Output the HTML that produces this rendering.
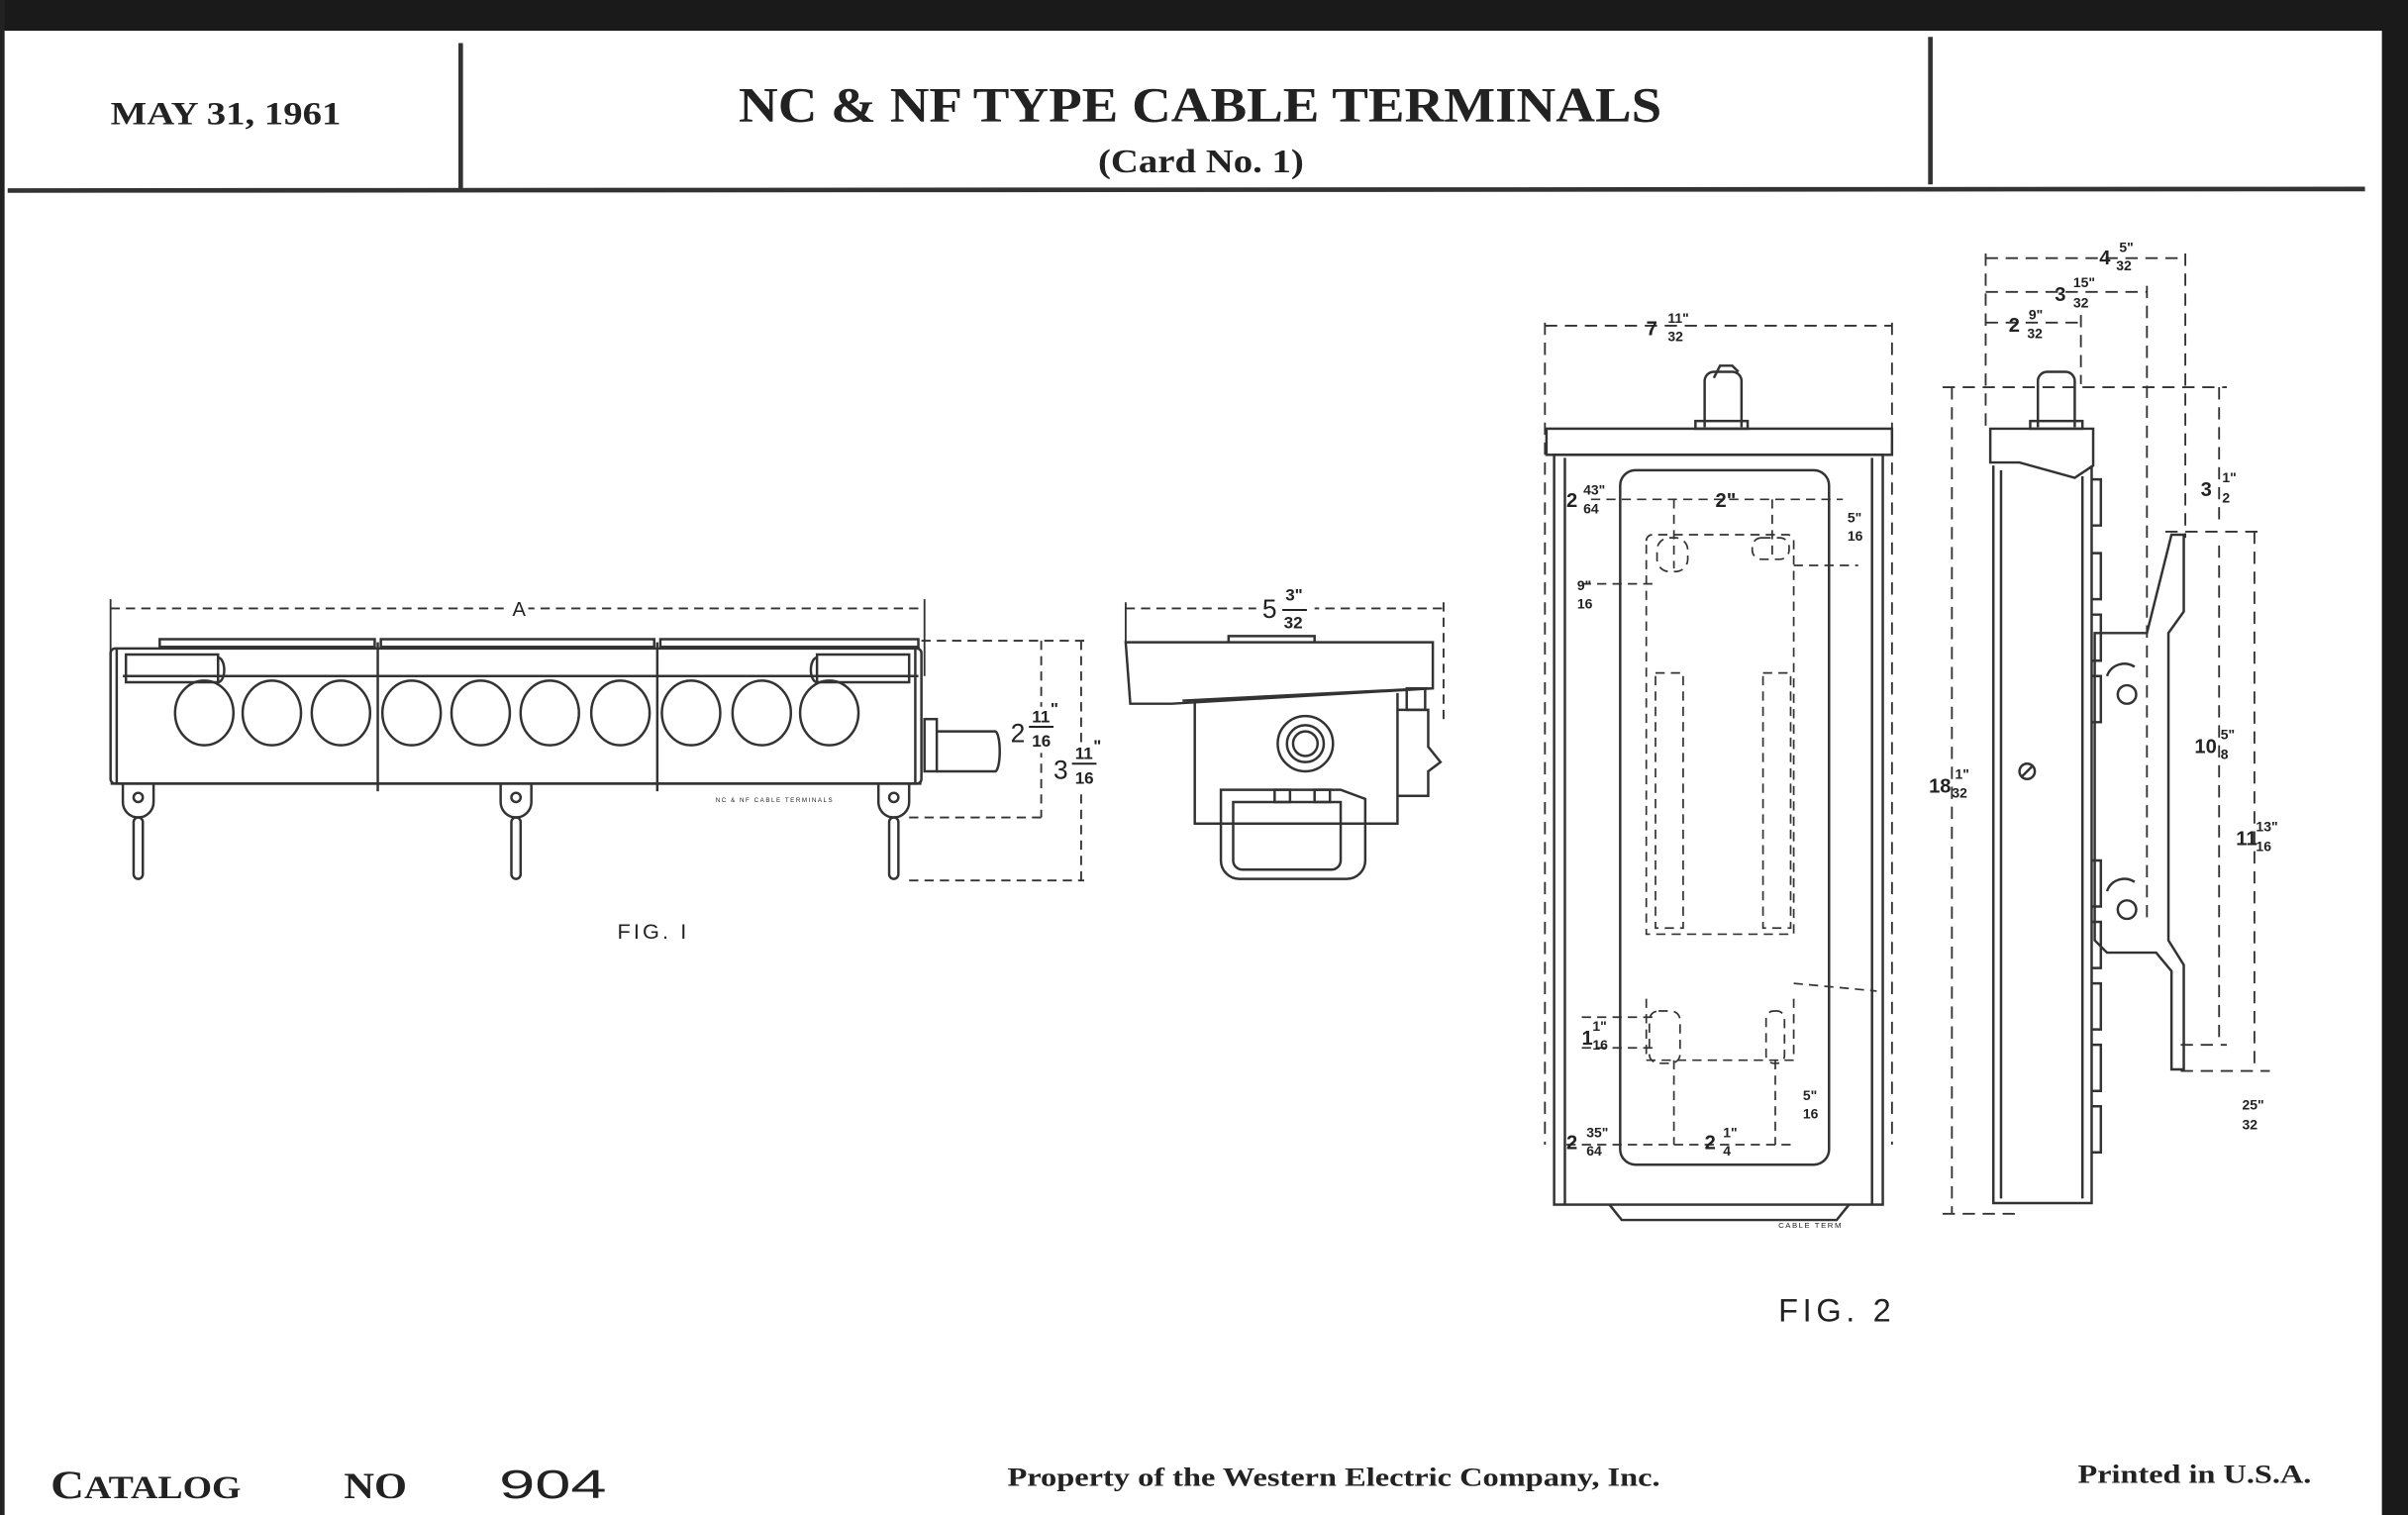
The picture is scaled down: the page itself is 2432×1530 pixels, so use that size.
<!DOCTYPE html>
<html><head><meta charset="utf-8"><style>
html,body{margin:0;padding:0;background:#fff;}
svg{display:block;}
.s{font-family:"Liberation Serif",serif;font-weight:bold;fill:#222;}
.d{font-family:"Liberation Sans",sans-serif;fill:#222;}
</style></head><body>
<svg width="2432" height="1530" viewBox="0 0 1568 986" preserveAspectRatio="none" xmlns="http://www.w3.org/2000/svg">
<rect x="0" y="0" width="1568" height="986" fill="#fff"/>
<rect x="0" y="0" width="1568" height="20" fill="#1a1a1a"/>
<rect x="1551" y="0" width="17" height="986" fill="#1a1a1a"/>
<rect x="0" y="0" width="3" height="986" fill="#222"/>
<!-- header -->
<g stroke="#333" stroke-width="3" fill="none">
<line x1="5" y1="124" x2="1540" y2="123"/>
<line x1="300" y1="28" x2="300" y2="124"/>
<line x1="1257" y1="24" x2="1257" y2="120"/>
</g>
<text class="s" x="72" y="81" font-size="21" textLength="150" lengthAdjust="spacingAndGlyphs">MAY 31, 1961</text>
<text class="s" x="481" y="79" font-size="32" font-weight="normal" textLength="601" lengthAdjust="spacingAndGlyphs">NC &amp; NF TYPE CABLE TERMINALS</text>
<text class="s" x="715" y="112" font-size="22" font-weight="normal" textLength="134" lengthAdjust="spacingAndGlyphs">(Card No. 1)</text>
<!-- footer -->
<text class="s" x="33" y="975" font-size="26" textLength="124" lengthAdjust="spacingAndGlyphs">C<tspan font-size="21">ATALOG</tspan></text>
<text class="s" x="224" y="975" font-size="24" textLength="41" lengthAdjust="spacingAndGlyphs">NO</text>
<text class="d" x="325" y="975" font-size="26" textLength="70" lengthAdjust="spacingAndGlyphs">904</text>
<text class="s" x="656" y="967" font-size="17" textLength="425" lengthAdjust="spacingAndGlyphs">Property of the Western Electric Company, Inc.</text>
<text class="s" x="1353" y="965" font-size="17" textLength="152" lengthAdjust="spacingAndGlyphs">Printed in U.S.A.</text>

<g stroke="#333" stroke-width="1.6" fill="none">
<!-- FIG 1 long terminal -->
<line x1="72" y1="396" x2="602" y2="396" stroke-dasharray="6,4" stroke-width="1.2"/>
<line x1="72" y1="390" x2="72" y2="440" stroke-width="1.2"/>
<line x1="602" y1="390" x2="602" y2="440" stroke-width="1.2"/>
<rect x="104" y="416" width="140" height="5"/>
<rect x="248" y="416" width="178" height="5"/>
<rect x="430" y="416" width="168" height="5"/>
<rect x="72" y="422" width="528" height="88" rx="3"/>
<line x1="72" y1="510" x2="600" y2="510"/>
<line x1="76" y1="422" x2="76" y2="510"/>
<line x1="596" y1="422" x2="596" y2="510"/>
<line x1="246" y1="418" x2="246" y2="515"/>
<line x1="428" y1="418" x2="428" y2="515"/>
<line x1="80" y1="440" x2="598" y2="440"/>
<path d="M82 426 h60 v18 h-60 z M142 428 a4 8 0 0 1 0 16"/>
<path d="M592 426 h-60 v18 h60 z M532 428 a4 8 0 0 0 0 16"/>
<g>
<ellipse cx="133" cy="464" rx="19" ry="21"/><ellipse cx="177" cy="464" rx="19" ry="21"/>
<ellipse cx="222" cy="464" rx="19" ry="21"/><ellipse cx="268" cy="464" rx="19" ry="21"/>
<ellipse cx="313" cy="464" rx="19" ry="21"/><ellipse cx="358" cy="464" rx="19" ry="21"/>
<ellipse cx="404" cy="464" rx="19" ry="21"/><ellipse cx="450" cy="464" rx="19" ry="21"/>
<ellipse cx="496" cy="464" rx="19" ry="21"/><ellipse cx="540" cy="464" rx="19" ry="21"/>
</g>
<path d="M80 510 v12 a10 10 0 0 0 20 0 v-12"/><circle cx="90" cy="519" r="3"/>
<path d="M326 510 v12 a10 10 0 0 0 20 0 v-12"/><circle cx="336" cy="519" r="3"/>
<path d="M572 510 v12 a10 10 0 0 0 20 0 v-12"/><circle cx="582" cy="519" r="3"/>
<rect x="87" y="532" width="6" height="40" rx="3"/>
<rect x="333" y="532" width="6" height="40" rx="3"/>
<rect x="579" y="532" width="6" height="40" rx="3"/>
<rect x="602" y="468" width="8" height="34"/>
<path d="M610 476 h38 a3 13 0 0 1 0 26 h-38"/>
<g stroke-width="1.2" stroke-dasharray="6,4">
<line x1="600" y1="417" x2="706" y2="417"/>
<line x1="592" y1="532" x2="680" y2="532"/>
<line x1="592" y1="573" x2="706" y2="573"/>
<line x1="678" y1="417" x2="678" y2="532"/>
<line x1="704" y1="417" x2="704" y2="573"/>
</g>
<!-- FIG1 end view -->
<line x1="733" y1="396" x2="940" y2="396" stroke-dasharray="6,4" stroke-width="1.2"/>
<line x1="733" y1="392" x2="733" y2="420" stroke-width="1.2"/>
<line x1="940" y1="392" x2="940" y2="470" stroke-width="1.2" stroke-dasharray="6,4"/>
<path d="M800 418 v-4 h56 v4"/>
<path d="M733 418 h200 v30 l-170 10 h-27 z"/>
<path d="M770 456 l160 -8"/>
<path d="M778 456 v80 h132 v-85"/>
<circle cx="850" cy="484" r="18"/><circle cx="850" cy="484" r="12"/><circle cx="850" cy="484" r="8"/>
<rect x="916" y="448" width="12" height="14"/>
<path d="M910 462 h20 v24 l8 10 l-8 6 v16 h-20"/>
<path d="M795 514 h78 l16 6 v40 a12 12 0 0 1 -12 12 h-70 a12 12 0 0 1 -12 -12 z"/>
<path d="M803 522 h70 v38 a6 6 0 0 1 -6 6 h-58 a6 6 0 0 1 -6 -6 z"/>
<rect x="830" y="514" width="10" height="8"/><rect x="856" y="514" width="10" height="8"/>

<!-- FIG 2 front -->
<g stroke-width="1.2" stroke-dasharray="8,5">
<line x1="1006" y1="212" x2="1232" y2="212"/>
<line x1="1006" y1="210" x2="1006" y2="745"/>
<line x1="1232" y1="210" x2="1232" y2="745"/>
</g>
<path d="M1110 278 v-30 a6 6 0 0 1 6 -6 h12 a6 6 0 0 1 6 6 v30"/>
<path d="M1116 246 l4 -8 h8 l4 4"/>
<rect x="1104" y="274" width="34" height="5"/>
<rect x="1007" y="279" width="225" height="17"/>
<rect x="1012" y="296" width="214" height="488"/>
<line x1="1019" y1="298" x2="1019" y2="784"/><line x1="1219" y1="298" x2="1219" y2="784"/>
<path d="M1048 784 l8 10 h140 l8 -10"/>
<rect x="1055" y="306" width="136" height="452" rx="10"/>
<g stroke-width="1.1" stroke-dasharray="6,4">
<path d="M1072 352 a4 4 0 0 1 4 -4 h88 a4 4 0 0 1 4 4 v256 h-96 z"/>
<path d="M1072 650 v40 h96 v-40"/>
<rect x="1078" y="438" width="18" height="166"/>
<rect x="1148" y="438" width="18" height="166"/>
<rect x="1079" y="350" width="20" height="22" rx="8"/>
<rect x="1141" y="350" width="24" height="14" rx="6"/>
<rect x="1074" y="658" width="20" height="34" rx="6"/>
<rect x="1150" y="658" width="12" height="34" rx="5"/>
<line x1="1036" y1="325" x2="1200" y2="325"/>
<line x1="1030" y1="380" x2="1080" y2="380"/>
<line x1="1090" y1="325" x2="1090" y2="370"/>
<line x1="1154" y1="325" x2="1154" y2="365"/>
<line x1="1090" y1="690" x2="1090" y2="745"/>
<line x1="1156" y1="690" x2="1156" y2="745"/>
<line x1="1020" y1="745" x2="1170" y2="745"/>
<line x1="1030" y1="682" x2="1080" y2="682"/>
<line x1="1030" y1="662" x2="1080" y2="662"/>
<line x1="1168" y1="368" x2="1210" y2="368"/>
<line x1="1168" y1="640" x2="1222" y2="645"/>
</g>
<!-- FIG2 side -->
<g stroke-width="1.2" stroke-dasharray="8,5">
<line x1="1293" y1="168" x2="1423" y2="168"/>
<line x1="1293" y1="190" x2="1398" y2="190"/>
<line x1="1293" y1="210" x2="1355" y2="210"/>
<line x1="1293" y1="165" x2="1293" y2="280"/>
<line x1="1355" y1="205" x2="1355" y2="250"/>
<line x1="1398" y1="186" x2="1398" y2="600"/>
<line x1="1423" y1="165" x2="1423" y2="350"/>
<line x1="1265" y1="252" x2="1450" y2="252"/>
<line x1="1271" y1="252" x2="1271" y2="790"/>
<line x1="1265" y1="790" x2="1316" y2="790"/>
<line x1="1445" y1="252" x2="1445" y2="340"/>
<line x1="1410" y1="346" x2="1475" y2="346"/>
<line x1="1445" y1="355" x2="1445" y2="680"/>
<line x1="1468" y1="346" x2="1468" y2="697"/>
<line x1="1420" y1="680" x2="1450" y2="680"/>
<line x1="1420" y1="697" x2="1478" y2="697"/>
</g>
<path d="M1327 278 v-30 a6 6 0 0 1 6 -6 h12 a6 6 0 0 1 6 6 v30"/>
<rect x="1322" y="274" width="34" height="5"/>
<path d="M1296 279 h67 v24 l-12 8 l-36 -10 h-19 z"/>
<path d="M1298 303 v480 h64 v-480"/>
<line x1="1303" y1="306" x2="1303" y2="780"/><line x1="1356" y1="310" x2="1356" y2="780"/>
<path d="M1362 312 h6 v30 h-6 M1362 360 h6 v30 h-6 M1362 400 h6 v30 h-6 M1362 440 h6 v30 h-6 M1362 560 h6 v30 h-6 M1362 600 h6 v30 h-6 M1362 640 h6 v30 h-6 M1362 680 h6 v30 h-6 M1362 720 h6 v30 h-6"/>
<circle cx="1320" cy="502" r="5"/><line x1="1316" y1="506" x2="1324" y2="498"/>
<path d="M1414 348 h8 v50 l-10 14 v200 l10 16 v68 h-8 v-64 l-10 -12 h-32 l-8 -8 v-200 h34 z"/>
<circle cx="1385" cy="452" r="6"/><circle cx="1385" cy="592" r="6"/>
<path d="M1372 440 a12 12 0 0 1 18 -6 M1372 580 a12 12 0 0 1 18 -6"/>
</g>
<!-- FIG1 labels -->
<rect x="332" y="390" width="12" height="12" fill="#fff"/>
<text class="d" x="338" y="401" font-size="13" text-anchor="middle">A</text>
<text class="d" x="402" y="611" font-size="14" letter-spacing="2">FIG. I</text>
<text class="d" x="466" y="522" font-size="4" letter-spacing="1">NC &amp; NF CABLE TERMINALS</text>
<rect x="657" y="460" width="33" height="30" fill="#fff"/>
<rect x="684" y="484" width="38" height="30" fill="#fff"/>
<rect x="818" y="386" width="38" height="26" fill="#fff"/>
<g class="d" font-size="17">
<text x="658" y="483">2</text><text x="672" y="470" font-size="11" font-weight="bold">11</text><text x="672" y="486" font-size="11" font-weight="bold">16</text><text x="684" y="465" font-size="11" font-weight="bold">"</text>
<line x1="670" y1="473" x2="686" y2="473" stroke="#222" stroke-width="1.3"/>
<text x="686" y="507">3</text><text x="700" y="494" font-size="11" font-weight="bold">11</text><text x="700" y="510" font-size="11" font-weight="bold">16</text><text x="712" y="489" font-size="11" font-weight="bold">"</text>
<line x1="698" y1="497" x2="714" y2="497" stroke="#222" stroke-width="1.3"/>
<text x="822" y="402">5</text><text x="837" y="391" font-size="11" font-weight="bold">3"</text><text x="836" y="409" font-size="11" font-weight="bold">32</text>
<line x1="835" y1="397" x2="851" y2="397" stroke="#222" stroke-width="1.3"/>
</g>
<!-- FIG2 labels -->
<g class="d" font-size="13" font-weight="bold">
<text x="1072" y="218">7</text><text x="1086" y="210" font-size="9">11"</text><text x="1086" y="222" font-size="9">32</text>
<text x="1020" y="330">2</text><text x="1031" y="322" font-size="9">43"</text><text x="1031" y="334" font-size="9">64</text>
<text x="1117" y="330">2"</text>
<text x="1203" y="340" font-size="9">5"</text><text x="1203" y="352" font-size="9">16</text>
<text x="1027" y="384" font-size="9">9"</text><text x="1027" y="396" font-size="9">16</text>
<text x="1030" y="680">1</text><text x="1037" y="671" font-size="9">1"</text><text x="1037" y="683" font-size="9">16</text>
<text x="1174" y="716" font-size="9">5"</text><text x="1174" y="728" font-size="9">16</text>
<text x="1020" y="748">2</text><text x="1033" y="740" font-size="9">35"</text><text x="1033" y="752" font-size="9">64</text>
<text x="1110" y="748">2</text><text x="1122" y="740" font-size="9">1"</text><text x="1122" y="752" font-size="9">4</text>
<text x="1367" y="172">4</text><text x="1380" y="164" font-size="9">5"</text><text x="1378" y="176" font-size="9">32</text>
<text x="1338" y="196">3</text><text x="1350" y="187" font-size="9">15"</text><text x="1350" y="200" font-size="9">32</text>
<text x="1308" y="216">2</text><text x="1321" y="208" font-size="9">9"</text><text x="1320" y="220" font-size="9">32</text>
<text x="1256" y="516">18</text><text x="1273" y="507" font-size="9">1"</text><text x="1271" y="519" font-size="9">32</text>
<text x="1433" y="323">3</text><text x="1447" y="314" font-size="9">1"</text><text x="1447" y="327" font-size="9">2</text>
<text x="1429" y="490">10</text><text x="1446" y="481" font-size="9">5"</text><text x="1446" y="494" font-size="9">8</text>
<text x="1456" y="550">11</text><text x="1469" y="541" font-size="9">13"</text><text x="1469" y="554" font-size="9">16</text>
<text x="1460" y="722" font-size="9">25"</text><text x="1460" y="735" font-size="9">32</text>
</g>
<text class="d" x="1158" y="799" font-size="5" letter-spacing="1">CABLE TERM</text>
<text class="d" x="1158" y="860" font-size="21" letter-spacing="3">FIG. 2</text>
</svg>
</body></html>
